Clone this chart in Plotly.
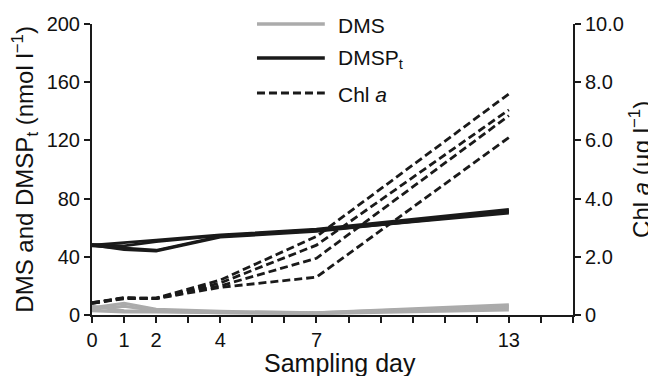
import plotly.graph_objects as go

days = [0, 1, 2, 4, 7, 13]

# DMS (nmol l-1), four replicates
dms_reps = [
    [5.0, 8.0, 4.0, 2.5, 1.5, 7.0],
    [4.0, 6.0, 3.0, 2.0, 1.5, 6.0],
    [6.0, 3.0, 2.5, 1.5, 1.0, 5.0],
    [3.0, 2.0, 2.0, 1.5, 1.0, 3.5],
]

# DMSPt (nmol l-1), four replicates
dmsp_reps = [
    [48.0, 49.5, 51.5, 55.0, 59.0, 72.5],
    [48.5, 47.5, 50.5, 54.5, 58.5, 71.5],
    [47.5, 46.0, 44.5, 54.0, 58.0, 70.0],
    [48.0, 45.0, 44.0, 53.5, 57.5, 71.0],
]

# Chl a (ug l-1), four replicates
chl_reps = [
    [0.40, 0.58, 0.58, 1.20, 2.70, 7.60],
    [0.42, 0.60, 0.56, 1.10, 2.40, 7.05],
    [0.40, 0.56, 0.58, 1.00, 1.95, 6.85],
    [0.42, 0.58, 0.56, 0.95, 1.30, 6.10],
]

x_ticks = list(range(0, 16))
x_labels = ["0", "1", "2", "", "4", "", "", "7", "", "", "", "", "", "13", "", ""]
left_ticks = [0, 40, 80, 120, 160, 200]
right_ticks = [0, 2, 4, 6, 8, 10]
right_labels = ["0", "2.0", "4.0", "6.0", "8.0", "10.0"]

legend_names = ["DMS", "DMSP<sub>t</sub>", "Chl <i>a</i>"]

GRAY = "#ababab"
BLACK = "#1a1a1a"
FONT = "Liberation Sans, Arial, sans-serif"
DASH = "8px,4px"

fig = go.Figure()

for r in chl_reps:
    fig.add_trace(go.Scatter(x=days, y=r, mode="lines", yaxis="y2",
                             line=dict(color=BLACK, width=2.8, dash=DASH),
                             showlegend=False, hoverinfo="skip"))
for r in dmsp_reps:
    fig.add_trace(go.Scatter(x=days, y=r, mode="lines",
                             line=dict(color=BLACK, width=2.8),
                             showlegend=False, hoverinfo="skip"))
for r in dms_reps:
    fig.add_trace(go.Scatter(x=days, y=r, mode="lines",
                             line=dict(color=GRAY, width=3),
                             showlegend=False, hoverinfo="skip"))

axis_common = dict(showgrid=False, zeroline=False, showline=True, linecolor=BLACK,
                   linewidth=2, ticks="outside", ticklen=6, tickwidth=2, tickcolor=BLACK,
                   automargin=False,
                   tickfont=dict(family=FONT, size=20, color="#111"))

# page body has an 8px margin, so the figure is 8px smaller than the window
fig.update_layout(
    width=648, height=368,
    margin=dict(l=84, r=83, t=16, b=61),
    paper_bgcolor="white", plot_bgcolor="white",
    showlegend=False,
    xaxis=dict(range=[0, 15], tickvals=x_ticks, ticktext=x_labels, **axis_common),
    yaxis=dict(range=[0, 200], tickvals=left_ticks, **axis_common),
    yaxis2=dict(range=[0, 10], tickvals=right_ticks, ticktext=right_labels,
                overlaying="y", side="right", **axis_common),
)

annotations = [
    dict(text="DMS and DMSP<sub>t</sub> (nmol l<sup>−1</sup>)", x=-0.141, y=0.5,
         xref="paper", yref="paper", textangle=-90, showarrow=False,
         xanchor="center", yanchor="middle", font=dict(family=FONT, size=24, color="#111")),
    dict(text="Chl <i>a</i> (µg l<sup>−1</sup>)", x=1.138, y=0.5,
         xref="paper", yref="paper", textangle=-90, showarrow=False,
         xanchor="center", yanchor="middle", font=dict(family=FONT, size=24, color="#111")),
    dict(text="Sampling day", x=0.516, y=-0.165, xref="paper", yref="paper",
         showarrow=False, xanchor="center", yanchor="middle",
         font=dict(family=FONT, size=25, color="#111")),
]

# custom legend
leg_y = [1.0, 0.883, 0.763]
leg_styles = [dict(color=GRAY, width=3.5), dict(color=BLACK, width=3.5),
              dict(color=BLACK, width=3, dash=DASH)]
shapes = []
for name, yy, st in zip(legend_names, leg_y, leg_styles):
    shapes.append(dict(type="line", xref="paper", yref="paper",
                       x0=0.343, x1=0.484, y0=yy, y1=yy, line=st))
    annotations.append(dict(text=name, x=0.507, y=yy - 0.004, xref="paper", yref="paper",
                            showarrow=False, xanchor="left", yanchor="middle",
                            font=dict(family=FONT, size=21, color="#111")))

fig.update_layout(annotations=annotations, shapes=shapes)

fig.write_html("out.html")
